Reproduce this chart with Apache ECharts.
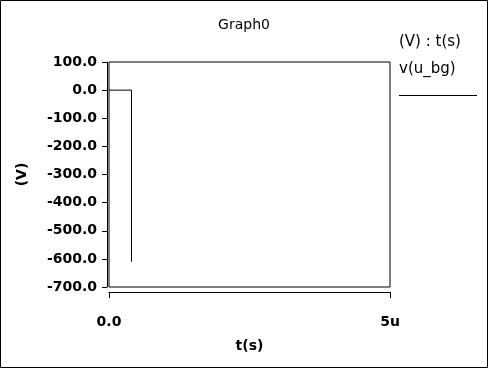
<!DOCTYPE html>
<html><head><meta charset="utf-8">
<script src="https://cdn.jsdelivr.net/npm/echarts@6/dist/echarts.min.js"></script>
<style>html,body{margin:0;padding:0;background:#fff}#c{width:488px;height:368px}</style>
</head><body><div id="c"></div>
<script>
const times = [0, 0.4e-6, 0.4e-6];
const values = [0, 0, -610];
const xTicks = {0: '0.0', 5e-6: '5u'};
const yMin = -700, yMax = 100, yStep = 100;
const FONT = 'DejaVu Sans';

const chart = echarts.init(document.getElementById('c'), null, {renderer: 'canvas'});
chart.setOption({
  animation: false,
  backgroundColor: '#fff',
  title: {text: 'Graph0', left: 'center', top: 13, textStyle: {fontFamily: FONT, fontSize: 14, fontWeight: 'normal', color: '#000'}},
  grid: {left: 109, right: 98, top: 62, bottom: 81, show: true, borderColor: '#000', borderWidth: 1, backgroundColor: 'transparent'},
  xAxis: {
    type: 'value', min: 0, max: 5e-6, interval: 5e-6, offset: 5,
    name: 't(s)', nameLocation: 'middle', nameGap: 47,
    nameTextStyle: {fontFamily: FONT, fontSize: 14, fontWeight: 'bold', color: '#000'},
    axisLine: {show: true, onZero: false, lineStyle: {color: '#000', width: 1}},
    axisTick: {show: true, length: 6, lineStyle: {color: '#000'}},
    axisLabel: {fontFamily: FONT, fontSize: 14, fontWeight: 'bold', color: '#000', margin: 23, formatter: v => xTicks[v] !== undefined ? xTicks[v] : ''},
    splitLine: {show: false}
  },
  yAxis: {
    type: 'value', min: yMin, max: yMax, interval: yStep, offset: 2,
    name: '(V)', nameLocation: 'middle', nameGap: 78, nameRotate: 90,
    nameTextStyle: {fontFamily: FONT, fontSize: 14, fontWeight: 'bold', color: '#000'},
    axisLine: {show: true, onZero: false, lineStyle: {color: '#000', width: 1}},
    axisTick: {show: true, length: 5, lineStyle: {color: '#000'}},
    axisLabel: {fontFamily: FONT, fontSize: 14, fontWeight: 'bold', color: '#000', margin: 10, formatter: v => v.toFixed(1)},
    splitLine: {show: false}
  },
  series: [{
    type: 'line', data: times.map((t, i) => [t, values[i]]),
    showSymbol: false, symbol: 'none', lineStyle: {color: '#000', width: 1}, clip: true
  }],
  graphic: [
    {type: 'rect', shape: {x: 0.5, y: 0.5, width: 487, height: 367}, style: {fill: 'none', stroke: '#000', lineWidth: 1}},
    {type: 'line', shape: {x1: 109, y1: 292.5, x2: 391, y2: 292.5}, style: {stroke: '#000', lineWidth: 1}},
    {type: 'text', left: 399, top: 35, style: {text: '(V) : t(s)', font: '15px "DejaVu Sans"', fill: '#000'}},
    {type: 'text', left: 399, top: 62, style: {text: 'v(u_bg)', font: '15px "DejaVu Sans"', fill: '#000'}},
    {type: 'line', shape: {x1: 399, y1: 95.5, x2: 477, y2: 95.5}, style: {stroke: '#000', lineWidth: 1}}
  ]
});
</script></body></html>
